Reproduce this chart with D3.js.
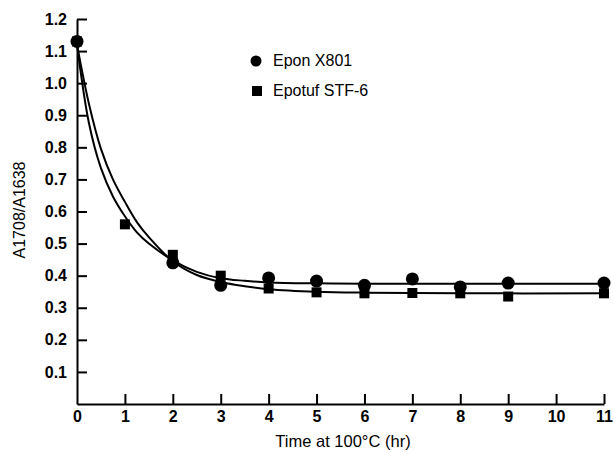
<!DOCTYPE html>
<html>
<head>
<meta charset="utf-8">
<script src="https://cdn.jsdelivr.net/npm/d3@7"></script>
<style>
body { margin: 0; background: #fff; }
svg { display: block; font-family: "Liberation Sans", Arial, sans-serif; }
</style>
</head>
<body>
<script>
// measured points
var eponT = [0, 2, 3, 4, 5, 6, 7, 8, 9, 11];
var eponY = [1.13, 0.44, 0.37, 0.393, 0.383, 0.37, 0.39, 0.365, 0.377, 0.377];
var epotufT = [0, 1, 2, 3, 4, 5, 6, 7, 8, 9, 11];
var epotufY = [1.13, 0.56, 0.465, 0.40, 0.36, 0.348, 0.345, 0.346, 0.345, 0.335, 0.345];

// fitted curves
var fitT = [0, 0.25, 0.5, 0.75, 1, 1.25, 1.5, 2, 2.5, 3, 3.5, 4, 5, 6, 8, 11];
var eponFit = [1.12, 0.875, 0.735, 0.647, 0.585, 0.535, 0.5, 0.448, 0.412, 0.392, 0.384, 0.379, 0.376, 0.375, 0.375, 0.375];
var epotufFit = [1.12, 0.935, 0.795, 0.70, 0.63, 0.567, 0.52, 0.445, 0.402, 0.38, 0.367, 0.358, 0.35, 0.347, 0.345, 0.345];

var xTicks = [0, 1, 2, 3, 4, 5, 6, 7, 8, 9, 10, 11];
var yTicks = [0.1, 0.2, 0.3, 0.4, 0.5, 0.6, 0.7, 0.8, 0.9, 1.0, 1.1, 1.2];
var seriesNames = ["Epon X801", "Epotuf STF-6"];

var w = 613, h = 452;
var svg = d3.select("body").append("svg").attr("width", w).attr("height", h);

var x = d3.scaleLinear().domain([0, 11]).range([77, 604]);
var y = d3.scaleLinear().domain([0, 1.2]).range([404, 19]);

var xAxis = svg.append("g")
  .attr("transform", "translate(0," + y(0) + ")")
  .call(d3.axisBottom(x).tickValues(xTicks).tickFormat(d3.format("d"))
    .tickSizeInner(-10).tickSizeOuter(0).tickPadding(7));
var yAxis = svg.append("g")
  .attr("transform", "translate(" + x(0) + ",0)")
  .call(d3.axisLeft(y).tickValues(yTicks).tickFormat(d3.format(".1f"))
    .tickSizeInner(-10).tickSizeOuter(0).tickPadding(10));

[xAxis, yAxis].forEach(function(g) {
  g.select(".domain").attr("stroke", "#000").attr("stroke-width", 2);
  g.selectAll(".tick line").attr("stroke", "#000").attr("stroke-width", 2);
  g.selectAll(".tick text").attr("fill", "#000")
    .style("font-size", "16px").style("font-weight", "bold");
});
xAxis.selectAll(".tick").filter(function(d) { return d === 0; }).select("line").remove();

// axis titles
svg.append("text").attr("x", 343).attr("y", 447).attr("text-anchor", "middle")
  .style("font-size", "16.5px").text("Time at 100°C (hr)");
svg.append("text").attr("transform", "translate(25,210) rotate(-90)")
  .attr("text-anchor", "middle").style("font-size", "16px").text("A1708/A1638");

// fit lines
var line = d3.line().curve(d3.curveCatmullRom.alpha(0.5))
  .x(function(d) { return x(d[0]); }).y(function(d) { return y(d[1]); });
[eponFit, epotufFit].forEach(function(vals) {
  svg.append("path")
    .datum(fitT.map(function(t, i) { return [t, vals[i]]; }))
    .attr("d", line).attr("fill", "none").attr("stroke", "#000").attr("stroke-width", 2);
});

// markers
svg.selectAll("rect.pt")
  .data(epotufT.map(function(t, i) { return [t, epotufY[i]]; }))
  .enter().append("rect").attr("class", "pt")
  .attr("x", function(d) { return x(d[0]) - 5; })
  .attr("y", function(d) { return y(d[1]) - 5; })
  .attr("width", 10).attr("height", 10).attr("fill", "#000");
svg.selectAll("circle.pt")
  .data(eponT.map(function(t, i) { return [t, eponY[i]]; }))
  .enter().append("circle").attr("class", "pt")
  .attr("cx", function(d) { return x(d[0]); })
  .attr("cy", function(d) { return y(d[1]); })
  .attr("r", 6.5).attr("fill", "#000");

// legend
svg.append("circle").attr("cx", 256).attr("cy", 61).attr("r", 5.5).attr("fill", "#000");
svg.append("rect").attr("x", 252).attr("y", 86).attr("width", 10).attr("height", 10).attr("fill", "#000");
svg.selectAll("text.leg").data(seriesNames).enter().append("text").attr("class", "leg")
  .attr("x", 273).attr("y", function(d, i) { return 66 + i * 30; })
  .style("font-size", "16px").text(function(d) { return d; });
</script>
</body>
</html>
